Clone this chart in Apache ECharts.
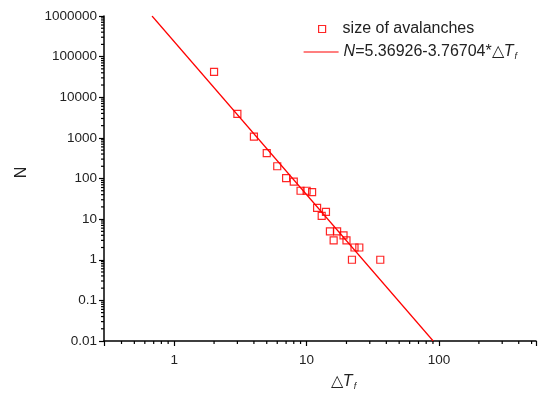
<!DOCTYPE html>
<html>
<head>
<meta charset="utf-8">
<script src="https://cdn.jsdelivr.net/npm/echarts@6/dist/echarts.min.js"></script>
<style>
html,body{margin:0;padding:0;background:#fff;}
#chart{width:539px;height:396px;}
</style>
</head>
<body>
<div id="chart"></div>
<script>
// ---- data ----
const deltaT = [2, 3, 4, 5, 6, 7, 8, 9, 10, 11, 12, 13, 14, 15, 16, 17, 19, 20, 22, 23, 25, 36];
const sizeN  = [42000, 3900, 1070, 420, 200, 102, 84, 50, 50, 46, 19, 12, 15, 5, 3, 5, 4, 3, 1, 2, 2, 1];
const fitX = [0.68, 90.4];
const fitY = [1000000, 0.01];
const xMinorTicks = [0.4,0.5,0.6,0.7,0.8,0.9, 2,3,4,5,6,7,8,9, 20,30,40,50,60,70,80,90, 200,300,400,500];
const yMinorTicks = [
  0.02,0.03,0.04,0.05,0.06,0.07,0.08,0.09,
  0.2,0.3,0.4,0.5,0.6,0.7,0.8,0.9,
  2,3,4,5,6,7,8,9,
  20,30,40,50,60,70,80,90,
  200,300,400,500,600,700,800,900,
  2000,3000,4000,5000,6000,7000,8000,9000,
  20000,30000,40000,50000,60000,70000,80000,90000,
  200000,300000,400000,500000,600000,700000,800000,900000
];
const scatterName = 'size of avalanches';
const fitName = 'N=5.36926-3.76704*△Tf';

const X_MIN = 0.295, X_MAX = 540, Y_MIN = 0.01, Y_MAX = 1000000;
const FONT = "'Liberation Sans', Arial, sans-serif";
const RED = '#ff0000';

function powLabel(v) {
  const l = Math.log10(v);
  const p = Math.round(l);
  if (Math.abs(l - p) > 1e-6) return '';
  return p < 0 ? Math.pow(10, p).toFixed(-p) : String(Math.pow(10, p));
}

const chart = echarts.init(document.getElementById('chart'), null, {renderer: 'canvas'});

const option = {
  backgroundColor: '#fff',
  animation: false,
  grid: {left: 104, right: 0, top: 16, bottom: 54, containLabel: false},
  xAxis: {
    type: 'log', logBase: 10, min: X_MIN, max: X_MAX,
    name: '△{it|T}{sub|f}',
    nameLocation: 'middle', nameGap: 32,
    nameTextStyle: {
      fontFamily: FONT, fontSize: 16, color: '#222', padding: [0, 0, 0, 47],
      rich: {
        it: {fontFamily: FONT, fontSize: 16, fontStyle: 'italic', color: '#222'},
        sub: {fontFamily: FONT, fontSize: 9, fontStyle: 'italic', color: '#222', padding: [9, 0, 0, 1]}
      }
    },
    axisLine: {show: true, lineStyle: {color: '#000', width: 1.5}},
    axisTick: {show: true, inside: false, length: 5, lineStyle: {color: '#000', width: 1.2}},
    minorTick: {show: false},
    splitLine: {show: false},
    axisLabel: {formatter: powLabel, fontFamily: FONT, fontSize: 13.5, color: '#222', margin: 12}
  },
  yAxis: {
    type: 'log', logBase: 10, min: Y_MIN, max: Y_MAX,
    name: 'N',
    nameLocation: 'middle', nameGap: 74, nameRotate: 90,
    nameTextStyle: {fontFamily: FONT, fontSize: 16, color: '#222', padding: [0, 0, 0, 12]},
    axisLine: {show: true, lineStyle: {color: '#000', width: 1.5}},
    axisTick: {show: true, inside: false, length: 5, lineStyle: {color: '#000', width: 1.2}},
    minorTick: {show: false},
    splitLine: {show: false},
    axisLabel: {formatter: powLabel, fontFamily: FONT, fontSize: 13.5, color: '#222', margin: 7}
  },
  legend: [
    {
      data: [scatterName], orient: 'vertical', left: 313, top: 16,
      itemWidth: 7, itemHeight: 7, selectedMode: false,
      itemStyle: {color: 'rgba(255,0,0,0)', borderColor: RED, borderWidth: 1.2},
      textStyle: {fontFamily: FONT, fontSize: 16, color: '#222', padding: [0, 0, 0, 12]}
    },
    {
      data: [fitName], orient: 'vertical', left: 298, top: 39,
      itemWidth: 35, itemHeight: 14, selectedMode: false,
      lineStyle: {color: RED, width: 1.2},
      itemStyle: {color: 'rgba(0,0,0,0)', borderColor: 'rgba(0,0,0,0)', borderWidth: 0, opacity: 0},
      formatter: function () { return '{it|N}=5.36926-3.76704*△{it|T}{sub|f}'; },
      textStyle: {
        fontFamily: FONT, fontSize: 16, color: '#222',
        rich: {
          it: {fontFamily: FONT, fontSize: 16, fontStyle: 'italic', color: '#222'},
          sub: {fontFamily: FONT, fontSize: 9, fontStyle: 'italic', color: '#222', padding: [9, 0, 0, 1]}
        }
      }
    }
  ],
  series: [
    {
      name: fitName, type: 'line', symbol: 'none', silent: true,
      data: fitX.map((x, i) => [x, fitY[i]]),
      lineStyle: {color: RED, width: 1.2},
      itemStyle: {color: RED},
      clip: true, z: 2
    },
    {
      name: scatterName, type: 'scatter', symbol: 'rect', symbolSize: 7, silent: true,
      data: deltaT.map((x, i) => [x, sizeN[i]]),
      itemStyle: {color: 'rgba(255,0,0,0)', borderColor: RED, borderWidth: 1.2, opacity: 0.85},
      z: 3
    },
    {
      name: 'xMinor', type: 'custom', silent: true, clip: false,
      data: xMinorTicks.map(v => [v, Y_MIN]),
      renderItem: function (params, api) {
        const p = api.coord([api.value(0), Y_MIN]);
        return {type: 'line', shape: {x1: p[0], y1: p[1], x2: p[0], y2: p[1] + 3},
                style: {stroke: '#000', lineWidth: 1.2}};
      }
    },
    {
      name: 'yMinor', type: 'custom', silent: true, clip: false,
      data: yMinorTicks.map(v => [X_MIN, v]),
      renderItem: function (params, api) {
        const p = api.coord([X_MIN, api.value(1)]);
        return {type: 'line', shape: {x1: p[0], y1: p[1], x2: p[0] - 3, y2: p[1]},
                style: {stroke: '#000', lineWidth: 1.2}};
      }
    }
  ]
};
chart.setOption(option);
</script>
</body>
</html>
